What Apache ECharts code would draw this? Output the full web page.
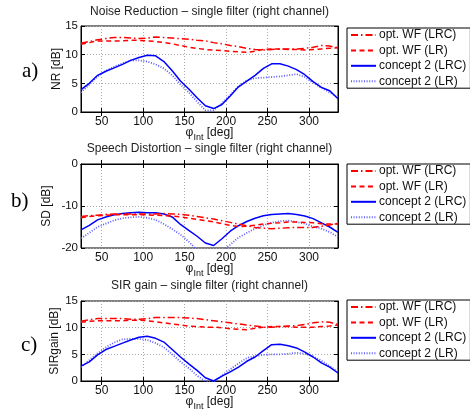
<!DOCTYPE html>
<html><head><meta charset="utf-8">
<script src="https://cdn.jsdelivr.net/npm/echarts@6/dist/echarts.min.js"></script>
<style>html,body{margin:0;padding:0;background:#fff}#c{width:470px;height:412px}</style>
</head><body><div id="c"></div>
<script>
const angles = [25,35,45,55,65,75,85,95,105,115,125,135,145,155,165,175,185,195,205,215,225,235,245,255,265,275,285,295,305,315,325,335];
const xTicks = [50,100,150,200,250,300];
const seriesNames = ['opt. WF (LRC)','opt. WF (LR)','concept 2 (LRC)','concept 2 (LR)'];
const titles = ['Noise Reduction \u2013 single filter (right channel)','Speech Distortion \u2013 single filter (right channel)','SIR gain \u2013 single filter (right channel)'];
const yNames = ['NR [dB]','SD [dB]','SIRgain [dB]'];
const panelLabels = ['a)','b)','c)'];

// a) Noise Reduction
const nrWfLrc = [12.0,12.3,12.6,12.8,13.0,13.0,12.9,12.8,12.9,13.1,13.0,12.9,12.8,12.7,12.5,12.4,12.1,11.9,11.6,11.4,11.1,10.9,10.8,10.9,11.0,11.0,11.0,11.1,11.3,11.6,11.5,11.2];
const nrWfLr  = [11.8,12.1,12.4,12.4,12.4,12.4,12.5,12.5,12.4,12.3,12.1,11.9,11.6,11.3,11.1,10.9,10.8,10.7,10.6,10.5,10.4,10.6,10.9,11.0,11.0,10.9,10.9,10.8,10.9,11.0,11.1,11.2];
const nrC2Lrc = [3.9,5.0,6.4,7.1,7.7,8.3,9.0,9.5,9.9,9.8,8.8,7.2,5.4,4.0,2.5,1.1,0.6,1.3,2.8,4.4,5.4,6.4,7.6,8.4,8.4,8.0,7.4,6.5,5.3,4.3,3.7,2.3];
const nrC2Lr  = [3.4,4.8,6.2,7.2,7.9,8.5,9.0,9.0,8.8,8.3,7.6,6.4,4.8,3.4,1.8,0.3,0.3,1.5,3.0,4.5,5.5,5.9,6.0,6.1,6.2,6.4,6.6,6.1,5.1,4.2,3.4,2.5];
// b) Speech Distortion
const sdWfLrc = [-12.5,-12.3,-12.2,-12.0,-11.9,-11.9,-11.9,-11.9,-11.9,-11.9,-11.8,-11.9,-12.0,-12.2,-12.5,-12.8,-13.1,-13.5,-13.9,-14.3,-14.7,-15.1,-15.3,-15.4,-15.3,-15.2,-15.1,-15.1,-15.1,-14.8,-14.5,-14.1];
const sdWfLr  = [-12.8,-12.5,-12.3,-12.2,-12.1,-12.1,-12.1,-12.1,-12.1,-12.2,-12.3,-12.4,-12.6,-12.9,-13.2,-13.5,-13.8,-14.2,-14.6,-14.9,-14.8,-14.6,-14.3,-14.1,-14.0,-13.8,-13.8,-13.9,-14.0,-14.2,-14.3,-14.3];
const sdC2Lrc = [-15.7,-14.6,-13.3,-12.6,-12.1,-11.8,-11.6,-11.5,-11.6,-11.6,-11.9,-12.6,-14.4,-15.8,-17.2,-18.8,-19.4,-17.8,-16.0,-14.7,-13.7,-12.9,-12.3,-12.0,-11.9,-11.8,-12.0,-12.4,-13.0,-14.0,-15.0,-16.3];
const sdC2Lr  = [-17.7,-16.4,-15.0,-14.2,-13.4,-12.9,-12.7,-12.6,-12.8,-13.3,-14.3,-15.5,-16.8,-18.5,-20.5,-21.5,-22.0,-20.8,-19.2,-17.5,-16.4,-15.4,-14.6,-14.0,-13.6,-13.5,-13.8,-14.2,-14.9,-15.4,-16.2,-17.4];
// c) SIR gain
const sirWfLrc = [11.2,11.5,11.7,11.7,11.7,11.7,11.6,11.6,11.7,11.9,11.9,11.9,11.9,11.8,11.7,11.5,11.3,11.1,10.9,10.7,10.5,10.3,10.1,10.1,10.2,10.3,10.4,10.6,10.9,11.1,11.0,10.6];
const sirWfLr  = [11.0,11.2,11.3,11.3,11.3,11.3,11.4,11.4,11.3,11.1,10.9,10.7,10.5,10.3,10.2,10.1,10.1,10.0,9.8,9.7,9.6,9.9,10.1,10.2,10.2,10.2,10.1,10.1,10.1,10.2,10.3,10.5];
const sirC2Lrc = [2.8,3.6,4.9,5.9,6.5,7.1,7.7,8.2,8.4,8.0,7.3,5.9,4.5,3.2,2.0,0.6,0.0,0.9,1.7,2.6,3.7,4.5,5.7,6.8,6.9,6.6,6.2,5.4,4.5,3.4,2.6,1.5];
const sirC2Lr  = [2.6,3.9,5.2,6.3,7.2,7.8,7.9,7.9,7.7,7.1,6.3,5.0,3.6,2.4,1.0,0.0,-0.2,1.0,2.2,3.3,4.3,4.7,4.9,5.0,5.0,5.1,5.3,5.1,4.6,3.8,2.8,1.7];

const yRanges = [[0,15,5],[-20,0,10],[0,15,5]];
const panelData = [[nrWfLrc,nrWfLr,nrC2Lrc,nrC2Lr],[sdWfLrc,sdWfLr,sdC2Lrc,sdC2Lr],[sirWfLrc,sirWfLr,sirC2Lrc,sirC2Lr]];

const FONT = '"Liberation Sans", Arial, sans-serif';
const grids = [{top:26,height:86},{top:164,height:84},{top:301,height:83}];
const titleTops = [6,143,280];
const legendTops = [28,164,300];
const yNameGaps = [18,28,20];
const labelPos = [[22,61],[11,191],[21,335]];
const styles = [
  {color:'#ff0000', type:[7,3,1.5,3], width:1.5},
  {color:'#ff0000', type:[5,3.5], width:1.5},
  {color:'#0000ff', type:'solid', width:1.5},
  {color:'#5c5cff', type:[1,1.6], width:1.8}
];

const option = {
  animation:false,
  backgroundColor:'#fff',
  title: titles.map((t,i)=>({text:t, left:209.5, textAlign:'center', top:titleTops[i], padding:0,
    textStyle:{fontFamily:FONT,fontSize:12,fontWeight:'normal',color:'#222'}})),
  grid: grids.map(g=>({left:81,right:132,top:g.top,height:g.height,show:true,borderColor:'#000',borderWidth:1,backgroundColor:'#fff'})),
  legend: legendTops.map(t=>({orient:'vertical',left:347,top:t,width:118,data:seriesNames,
    backgroundColor:'#fff',borderColor:'#000',borderWidth:1,borderRadius:0,padding:[1,4,1,3],itemGap:3.4,
    itemWidth:25,itemHeight:12,itemStyle:{opacity:0},
    textStyle:{fontFamily:FONT,fontSize:12,color:'#111',padding:[0,0,0,-2]}})),
  xAxis: [],
  yAxis: [],
  series: [],
  graphic: panelLabels.map((l,i)=>({type:'text',left:labelPos[i][0],top:labelPos[i][1],
    style:{text:l,fontFamily:'"Liberation Serif", "Times New Roman", serif',fontSize:21,fill:'#000'}}))
};

for (let i=0;i<3;i++){
  option.xAxis.push({type:'value',gridIndex:i,min:25,max:335,position:'bottom',
    name:'{p|\u03c6}{s|Int} [deg]',nameLocation:'middle',nameGap:12,nameMoveOverlap:false,
    nameTextStyle:{fontFamily:FONT,fontSize:12,color:'#111',verticalAlign:'top',rich:{p:{fontFamily:FONT,fontSize:12,color:'#111'},s:{fontFamily:FONT,fontSize:9,color:'#111',padding:[9,0,0,0]}}},
    axisLine:{show:true,lineStyle:{color:'#000',width:1}},
    axisTick:{show:true,inside:true,length:4,customValues:xTicks,lineStyle:{color:'#000'}},
    axisLabel:{show:true,customValues:xTicks,margin:4,fontFamily:FONT,fontSize:12,color:'#111'},
    splitLine:{show:true,lineStyle:{color:'#aaa',type:[1,2],width:1}}});
  option.xAxis.push({type:'value',gridIndex:i,min:25,max:335,position:'top',
    axisLine:{show:true,lineStyle:{color:'#000'}},
    axisTick:{show:true,inside:true,length:4,customValues:xTicks,lineStyle:{color:'#000'}},
    axisLabel:{show:false},splitLine:{show:false}});
  const [mn,mx,iv]=yRanges[i];
  option.yAxis.push({type:'value',gridIndex:i,min:mn,max:mx,interval:iv,position:'left',
    name:yNames[i],nameLocation:'middle',nameGap:yNameGaps[i],nameRotate:90,nameMoveOverlap:false,
    nameTextStyle:{fontFamily:FONT,fontSize:12,color:'#111'},
    axisLine:{show:true,lineStyle:{color:'#000',width:1}},
    axisTick:{show:true,inside:true,length:4,lineStyle:{color:'#000'}},
    axisLabel:{margin:3,fontFamily:FONT,fontSize:11.5,color:'#111'},
    splitLine:{show:true,lineStyle:{color:'#aaa',type:[1,2],width:1}}});
  option.yAxis.push({type:'value',gridIndex:i,min:mn,max:mx,interval:iv,position:'right',
    axisLine:{show:true,lineStyle:{color:'#000'}},
    axisTick:{show:true,inside:true,length:4,lineStyle:{color:'#000'}},
    axisLabel:{show:false},splitLine:{show:false}});
  for (let k=0;k<4;k++){
    option.series.push({type:'line',name:seriesNames[k],xAxisIndex:2*i,yAxisIndex:2*i,
      data:angles.map((a,j)=>[a,panelData[i][k][j]]),
      showSymbol:false,symbol:'none',smooth:false,clip:true,
      itemStyle:{color:styles[k].color},
      lineStyle:{color:styles[k].color,type:styles[k].type,width:styles[k].width},
      z:10-k});
  }
}

const chart = echarts.init(document.getElementById('c'),null,{renderer:'canvas'});
chart.setOption(option);
</script></body></html>
